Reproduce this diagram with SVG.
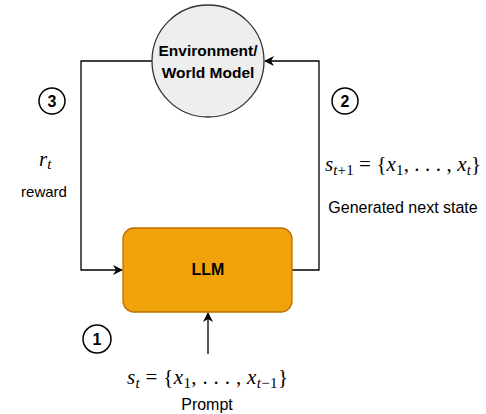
<svg xmlns="http://www.w3.org/2000/svg" width="486" height="414" viewBox="0 0 486 414">
<style>
.lbl{font-family:"Liberation Sans",Arial,sans-serif;font-size:16px;fill:#000}
.bold{font-weight:bold}
.math{font-family:"Liberation Serif","Times New Roman",serif;font-size:21px;fill:#000}
.it{font-style:italic}
.sub{font-size:15px}
.edge{fill:none;stroke:#000;stroke-width:1.3}
.badge{fill:#fff;stroke:#000;stroke-width:1.5}
</style>
<defs>
<marker id="arr" viewBox="0 0 10 10" refX="9" refY="5" markerWidth="10" markerHeight="10" markerUnits="userSpaceOnUse" orient="auto">
<path d="M0,0 L10,5 L0,10 L3,5 Z" fill="#000"/>
</marker>
</defs>
<rect width="486" height="414" fill="#fff"/>
<g id="connectors">
<path class="edge" d="M152,61 H81 V270 H122" marker-end="url(#arr)"/>
<path class="edge" d="M292,270 H319 V61 H265" marker-end="url(#arr)"/>
<path class="edge" d="M208,354 V313" marker-end="url(#arr)"/>
</g>
<g id="env">
<circle cx="208" cy="61" r="56" fill="#eeeeee" stroke="#333" stroke-width="1.3"/>
<text class="lbl bold" x="208" y="56" text-anchor="middle" style="font-size:15.5px">Environment/</text>
<text class="lbl bold" x="208" y="78" text-anchor="middle" style="font-size:15.5px">World Model</text>
</g>
<g id="llm">
<rect x="123" y="228" width="169" height="84" rx="11" fill="#f0a30a" stroke="#bd7000" stroke-width="1.3"/>
<text class="lbl bold" x="208" y="275" text-anchor="middle">LLM</text>
</g>
<g id="badge1"><circle class="badge" cx="97" cy="339" r="14"/><text class="lbl bold" x="97" y="345" text-anchor="middle">1</text></g>
<g id="badge2"><circle class="badge" cx="345" cy="101" r="13"/><text class="lbl bold" x="345" y="107" text-anchor="middle">2</text></g>
<g id="badge3"><circle class="badge" cx="52" cy="101" r="13"/><text class="lbl bold" x="52" y="107" text-anchor="middle">3</text></g>
<g id="reward">
<text class="math" x="39" y="166"><tspan class="it">r</tspan><tspan class="it sub" dy="3">t</tspan></text>
<text class="lbl" x="44" y="197" text-anchor="middle" style="font-size:15px">reward</text>
</g>
<g id="next">
<text class="math" x="325" y="171" textLength="156" lengthAdjust="spacing"><tspan class="it">s</tspan><tspan class="sub" dy="4"><tspan class="it">t</tspan>+1</tspan><tspan dy="-4"> = {</tspan><tspan class="it">x</tspan><tspan class="sub" dy="4">1</tspan><tspan dy="-4">, . . . , </tspan><tspan class="it">x</tspan><tspan class="sub it" dy="4">t</tspan><tspan dy="-4">}</tspan></text>
<text class="lbl" x="403" y="213" text-anchor="middle">Generated next state</text>
</g>
<g id="prompt">
<text class="math" x="127" y="384" textLength="161" lengthAdjust="spacing"><tspan class="it">s</tspan><tspan class="sub it" dy="4">t</tspan><tspan dy="-4"> = {</tspan><tspan class="it">x</tspan><tspan class="sub" dy="4">1</tspan><tspan dy="-4">, . . . , </tspan><tspan class="it">x</tspan><tspan class="sub" dy="4"><tspan class="it">t</tspan>−1</tspan><tspan dy="-4">}</tspan></text>
<text class="lbl" x="207" y="410" text-anchor="middle">Prompt</text>
</g>
</svg>
